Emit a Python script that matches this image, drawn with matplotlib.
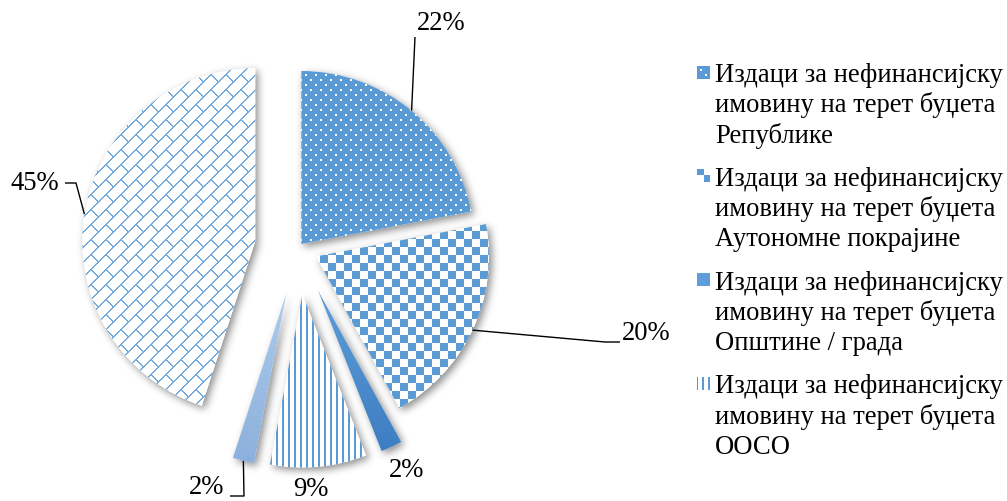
import numpy as np
import matplotlib
matplotlib.use("Agg")
import matplotlib.pyplot as plt
from matplotlib.patches import Rectangle

# ---------------- data ----------------
categories = [
    "Издаци за нефинансијску\nимовину на терет буџета\nРепублике",
    "Издаци за нефинансијску\nимовину на терет буџета\nАутономне покрајине",
    "Издаци за нефинансијску\nимовину на терет буџета\nОпштине / града",
    "Издаци за нефинансијску\nимовину на терет буџета\nООСО",
    "Остали издаци (1)",
    "Остали издаци (2)",
]
values = [22, 20, 2, 9, 2, 45]
pct_labels = ["22%", "20%", "2%", "9%", "2%", "45%"]
legend_count = 4  # only the first four legend entries fit in the picture

# ---------------- styling ----------------
W, H = 1007, 502
BLUE = np.array([0x5B, 0x9B, 0xD5]) / 255.0
WHITE = np.array([1.0, 1.0, 1.0])
pie_radius = 173
explode_frac = [0.03, 0.115, 0.27, 0.27, 0.27, 0.25]
explode = [e * pie_radius for e in explode_frac]  # matplotlib explode is absolute
FONT = ["Liberation Serif", "DejaVu Serif"]
FS = 19.2

fig = plt.figure(figsize=(W / 100, H / 100), dpi=100)
ax = fig.add_axes([0, 0, 1, 1])

pie_center = (298, H - 249)
wedges, _ = ax.pie(values, explode=explode, startangle=90, counterclock=False,
                   radius=pie_radius, center=pie_center,
                   wedgeprops=dict(facecolor="white", edgecolor="none"))
ax.set_xlim(0, W)
ax.set_ylim(0, H)
ax.set_aspect("equal")
ax.axis("off")

# pixel grid (row 0 = top of picture)
jj, ii = np.mgrid[0:H, 0:W]


def solid(mask_fg, fg=BLUE, bg=WHITE):
    img = np.empty((H, W, 3))
    img[:] = bg
    img[mask_fg] = fg
    return img


# patterns
dots = solid(((ii % 10 < 2) & (jj % 10 < 2)) | (((ii + 5) % 10 < 2) & ((jj + 5) % 10 < 2)),
             fg=WHITE, bg=BLUE)
checker = solid(((ii // 8 + jj // 8) % 2) == 0)
stripes = solid((ii % 6) < 2)
u = ii + jj
v = ii - jj
P, Q = 15, 30
row = u // P
joint = np.where(row % 2 == 0, v % Q, (v + Q // 2) % Q)
brick_mask = ((u % P) < 2) | (joint < 2)
brick_col = BLUE * 0.85 + WHITE * 0.15
brick = solid(brick_mask, fg=brick_col)


def vgrad(w, top, bottom):
    ext = w.get_path().get_extents()
    y0 = H - ext.y1
    y1 = H - ext.y0
    t = np.clip((jj - y0) / max(y1 - y0, 1), 0, 1)[..., None]
    top = np.array(top) / 255.0
    bottom = np.array(bottom) / 255.0
    return top * (1 - t) + bottom * t


fills = [dots, checker,
         vgrad(wedges[2], (0x5E, 0x9E, 0xD8), (0x3D, 0x7D, 0xC2)),
         stripes,
         vgrad(wedges[4], (0xAC, 0xCB, 0xEC), (0x8C, 0xB0, 0xDC)),
         brick]

# ---------------- shadow ----------------
xs = ii + 0.5
ys = H - (jj + 0.5)
mask = np.zeros((H, W))
for w in wedges:
    cx, cy = w.center
    dx, dy = xs - cx, ys - cy
    ang = np.degrees(np.arctan2(dy, dx)) % 360
    inside = (dx ** 2 + dy ** 2 <= w.r ** 2) & (((ang - w.theta1) % 360) <= (w.theta2 - w.theta1))
    mask[inside] = 1.0

sig = 4.0
kx = np.arange(-12, 13)
k = np.exp(-kx ** 2 / (2 * sig ** 2))
k /= k.sum()
sh = np.roll(np.roll(mask, 3, axis=0), 3, axis=1)
sh = np.apply_along_axis(lambda r: np.convolve(r, k, mode="same"), 1, sh)
sh = np.apply_along_axis(lambda c: np.convolve(c, k, mode="same"), 0, sh)
shadow = np.zeros((H, W, 4))
shadow[..., 3] = sh * 0.45
ax.imshow(shadow, extent=(0, W, 0, H), origin="upper", interpolation="nearest", zorder=0)

for w in wedges:
    w.set_zorder(1)

for w, img in zip(wedges, fills):
    im = ax.imshow(img, extent=(0, W, 0, H), origin="upper", interpolation="nearest", zorder=2)
    im.set_clip_path(w)

ax.set_xlim(0, W)
ax.set_ylim(0, H)


# ---------------- data labels ----------------
def arc_mid(w):
    a = np.radians((w.theta1 + w.theta2) / 2)
    cx, cy = w.center
    return cx + w.r * np.cos(a), cy + w.r * np.sin(a)


label_pos = [(441, 23), (646, 333), (407, 471), (311, 490), (207, 488), (35, 183)]
leader_pts = [[(415, 38)],
              [(605, 343), (620, 343)],
              None,
              None,
              [(244, 497), (230, 497)],
              [(76, 184), (65, 184)]]

for w, lab, pos, lead in zip(wedges, pct_labels, label_pos, leader_pts):
    ax.text(pos[0], H - pos[1], lab, ha="center", va="center", fontsize=FS,
            family=FONT, color="black", zorder=5)
    if lead:
        p0 = arc_mid(w)
        xs_l = [p0[0]] + [p[0] for p in lead]
        ys_l = [p0[1]] + [H - p[1] for p in lead]
        ax.plot(xs_l, ys_l, color="black", lw=1.0, zorder=4, solid_capstyle="butt")

# ---------------- legend ----------------
legend_fills = fills[:legend_count]
base0 = 82
entry_step = 103.8
line_step = 30.3
for kidx in range(legend_count):
    base = base0 + entry_step * kidx
    rect = Rectangle((697, H - (base - 2.5)), 13, 13, transform=ax.transData,
                     facecolor="none", edgecolor="none")
    ax.add_patch(rect)
    im = ax.imshow(legend_fills[kidx], extent=(0, W, 0, H), origin="upper",
                   interpolation="nearest", zorder=3)
    im.set_clip_path(rect)
    for li, line in enumerate(categories[kidx].split("\n")):
        ax.text(715, H - (base + li * line_step), line, ha="left", va="baseline",
                fontsize=FS, family=FONT, color="black", zorder=5)

ax.set_xlim(0, W)
ax.set_ylim(0, H)
fig.savefig("out.png", dpi=100)
